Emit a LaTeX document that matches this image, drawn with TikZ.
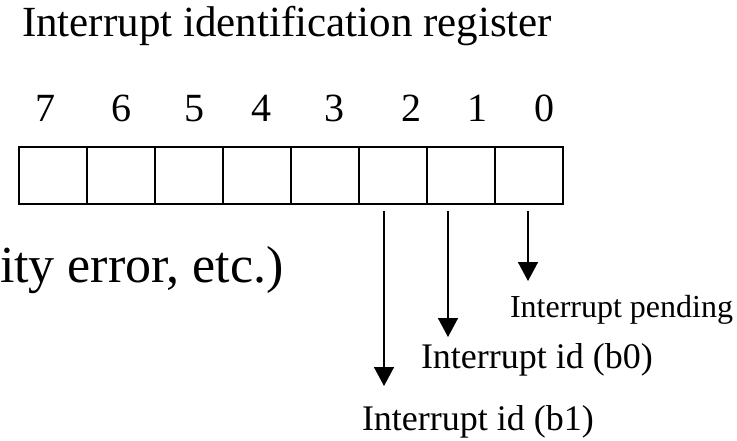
\documentclass[tikz,border=0pt]{standalone}
\usepackage{fontspec}
\setmainfont{Liberation Serif}
\usetikzlibrary{arrows.meta}
\begin{document}
\begin{tikzpicture}[x=1pt,y=-1pt,
  cell/.style={draw,line width=1.5pt,minimum width=68pt,minimum height=57pt,inner sep=0pt,outer sep=0pt,anchor=north west},
  lbl/.style={anchor=base west,inner sep=0pt,outer sep=0pt},
  digit/.style={anchor=base,inner sep=0pt,font=\fontsize{40}{40}\selectfont},
  arr/.style={line width=1.6pt,-{Triangle[width=20pt,length=19pt]}}]
\useasboundingbox (0,0) rectangle (737,441);
\node[lbl,font=\fontsize{43}{43}\selectfont] (title) at (22,37) {Interrupt identification register};
\foreach \i/\d/\x in {0/7/45,1/6/121,2/5/194,3/4/261,4/3/334,5/2/411,6/1/477,7/0/544}{
  \node[digit] (d\d) at (\x,122) {\d};
  \node[cell] (c\d) at (19+68*\i,147) {};
}
\node[lbl,font=\fontsize{52}{52}\selectfont] (err) at (0,282) {ity error, etc.)};
\node[lbl,font=\fontsize{32}{32}\selectfont] (pend) at (510,317) {Interrupt pending};
\node[lbl,font=\fontsize{36}{36}\selectfont] (b0) at (421,368) {Interrupt id (b0)};
\node[lbl,font=\fontsize{36}{36}\selectfont] (b1) at (362,430) {Interrupt id (b1)};
\coordinate (s2) at (384,211); \coordinate (t2) at (384,386);
\coordinate (s1) at (448,211); \coordinate (t1) at (448,337);
\coordinate (s0) at (528,211); \coordinate (t0) at (528,281);
\draw[arr] (s2) -- (t2);
\draw[arr] (s1) -- (t1);
\draw[arr] (s0) -- (t0);
\end{tikzpicture}
\end{document}
